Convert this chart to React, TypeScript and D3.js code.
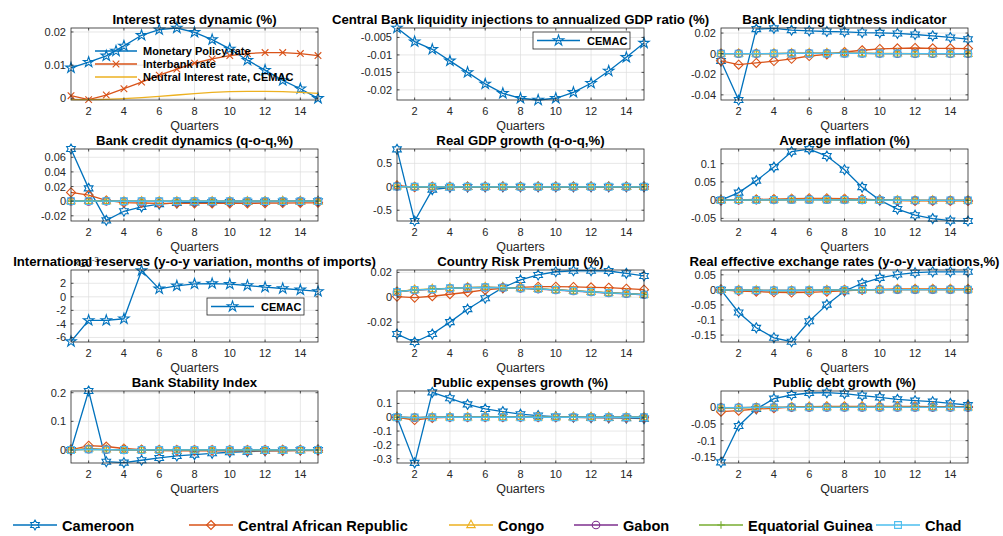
import React from 'react';
import * as d3 from 'd3';

// ---------------- DATA ----------------
const quarters = d3.range(1, 16);
const countries = ['Cameroon', 'Central African Republic', 'Congo', 'Gabon', 'Equatorial Guinea', 'Chad'];
const countryColors = ['#0072BD', '#D95319', '#EDB120', '#7E2F8E', '#77AC30', '#4DBEEE'];
const countryMarkers = ['hexagram', 'diamond', 'triangle', 'circle', 'plus', 'square'];

// Panel 1: interest rates
const ratePolicy = [0.0092, 0.0109, 0.0128, 0.0158, 0.019, 0.0207, 0.0212, 0.0199, 0.0177, 0.0149, 0.0115, 0.0085, 0.0054, 0.0029, 0.0];
const rateInterbank = [0.0008, -0.0004, 0.001, 0.0029, 0.0049, 0.007, 0.0088, 0.0106, 0.0119, 0.0129, 0.0135, 0.0138, 0.0138, 0.0135, 0.0129];
const rateNeutral = [-0.0004, -0.0004, -0.0003, -0.0001, 0.0002, 0.0006, 0.001, 0.0014, 0.0018, 0.002, 0.0021, 0.0021, 0.002, 0.0018, 0.0015];
const rateLegend = ['Monetary Policy rate', 'Interbank rate', 'Neutral Interest rate, CEMAC'];

// Panel 2: liquidity injections (CEMAC)
const liquidityCEMAC = [-0.0023, -0.0062, -0.0084, -0.0117, -0.015, -0.0183, -0.021, -0.0224, -0.0229, -0.0224, -0.0207, -0.0181, -0.0146, -0.0107, -0.0066];

// Panel 3: bank lending tightness
const lendCMR = [-0.0072, -0.045, 0.0238, 0.0245, 0.0228, 0.0222, 0.0215, 0.0212, 0.0205, 0.0202, 0.0196, 0.0186, 0.0173, 0.0157, 0.014];
const lendCAF = [-0.007, -0.0107, -0.009, -0.0072, -0.005, -0.0023, -0.0007, 0.0016, 0.0033, 0.0046, 0.0052, 0.0055, 0.0052, 0.0052, 0.0049];
const lendCOG = [0.0, 0.0, 0.0, 0.0002, 0.0003, 0.0004, 0.0005, 0.0005, 0.0004, 0.0003, 0.0002, 0.0001, 0.0, 0.0, -0.0001];
const lendGAB = [0.0, 0.0, 0.0, 0.0001, 0.0002, 0.0003, 0.0003, 0.0003, 0.0002, 0.0001, 0.0, 0.0, -0.0001, -0.0001, -0.0001];
const lendGNQ = [0.0, 0.0, 0.0, 0.0001, 0.0002, 0.0002, 0.0003, 0.0003, 0.0002, 0.0001, 0.0001, 0.0, 0.0, 0.0, 0.0];
const lendTCD = [0.0, 0.0, 0.0, 0.0001, 0.0002, 0.0002, 0.0002, 0.0002, 0.0002, 0.0001, 0.0001, 0.0, 0.0, 0.0, 0.0];

// Panel 4: bank credit dynamics
const credCMR = [0.0713, 0.0175, -0.0262, -0.0138, -0.0078, -0.004, -0.0023, -0.0018, -0.0015, -0.0012, -0.001, -0.0008, -0.0006, -0.0004, -0.0002];
const credCAF = [0.012, 0.0083, 0.001, -0.002, -0.0025, -0.003, -0.003, -0.003, -0.003, -0.003, -0.003, -0.0028, -0.0026, -0.0024, -0.0022];
const credCOG = [0.0, 0.0005, 0.0, -0.0002, -0.0003, -0.0003, -0.0003, -0.0003, -0.0003, -0.0002, -0.0002, -0.0002, -0.0001, -0.0001, -0.0001];
const credGAB = [0.0, -0.0003, 0.0, -0.0001, -0.0002, -0.0002, -0.0002, -0.0002, -0.0002, -0.0001, -0.0001, -0.0001, -0.0001, 0.0, 0.0];
const credGNQ = [0.0, 0.0002, 0.0, -0.0001, -0.0001, -0.0001, -0.0001, -0.0001, -0.0001, -0.0001, 0.0, 0.0, 0.0, 0.0, 0.0];
const credTCD = [0.0, 0.0001, 0.0, -0.0001, -0.0001, -0.0001, -0.0001, -0.0001, -0.0001, 0.0, 0.0, 0.0, 0.0, 0.0, 0.0];

// Panel 5: real GDP growth
const gdpCMR = [0.8, -0.73, -0.06, -0.015, -0.005, -0.002, 0.0, 0.0, 0.0, 0.0, 0.0, 0.0, 0.0, 0.0, 0.0];
const gdpCAF = [0.03, -0.01, 0.0, 0.0, 0.0, 0.0, 0.0, 0.0, 0.0, 0.0, 0.0, 0.0, 0.0, 0.0, 0.0];
const gdpCOG = [0.01, 0.0, 0.0, 0.0, 0.0, 0.0, 0.0, 0.0, 0.0, 0.0, 0.0, 0.0, 0.0, 0.0, 0.0];
const gdpGAB = [0.01, 0.0, 0.0, 0.0, 0.0, 0.0, 0.0, 0.0, 0.0, 0.0, 0.0, 0.0, 0.0, 0.0, 0.0];
const gdpGNQ = [0.005, 0.0, 0.0, 0.0, 0.0, 0.0, 0.0, 0.0, 0.0, 0.0, 0.0, 0.0, 0.0, 0.0, 0.0];
const gdpTCD = [0.005, 0.0, 0.0, 0.0, 0.0, 0.0, 0.0, 0.0, 0.0, 0.0, 0.0, 0.0, 0.0, 0.0, 0.0];

// Panel 6: average inflation
const inflCMR = [0.0, 0.0206, 0.0535, 0.0906, 0.133, 0.14, 0.121, 0.0835, 0.0356, 0.0, -0.0244, -0.0413, -0.0507, -0.0563, -0.0572];
const inflCAF = [0.0, 0.001, 0.002, 0.003, 0.004, 0.005, 0.005, 0.004, 0.003, 0.001, -0.001, -0.002, -0.002, -0.002, -0.002];
const inflCOG = [0.0, 0.0005, 0.001, 0.0015, 0.002, 0.002, 0.002, 0.0015, 0.001, 0.0, -0.0005, -0.001, -0.001, -0.001, -0.001];
const inflGAB = [0.0, 0.0003, 0.0008, 0.001, 0.0013, 0.0015, 0.0013, 0.001, 0.0005, 0.0, -0.0005, -0.0007, -0.0008, -0.0008, -0.0008];
const inflGNQ = [0.0, 0.0003, 0.0006, 0.0009, 0.0011, 0.0012, 0.0011, 0.0008, 0.0004, 0.0, -0.0003, -0.0005, -0.0006, -0.0006, -0.0006];
const inflTCD = [0.0, 0.0003, 0.0006, 0.0008, 0.001, 0.0011, 0.001, 0.0007, 0.0003, 0.0, -0.0003, -0.0005, -0.0005, -0.0005, -0.0005];

// Panel 7: international reserves (x 10^-3)
const reservesCEMAC = [-6.6, -3.48, -3.48, -3.24, 3.88, 1.18, 1.62, 1.9, 1.96, 1.87, 1.67, 1.42, 1.23, 1.03, 0.79];

// Panel 8: country risk premium
const riskCMR = [-0.0296, -0.036, -0.0296, -0.02, -0.0096, -0.0008, 0.0077, 0.0139, 0.0179, 0.0205, 0.0213, 0.0213, 0.0211, 0.0192, 0.0171];
const riskCAF = [0.0005, -0.0003, 0.0008, 0.0024, 0.004, 0.0059, 0.0072, 0.008, 0.0085, 0.0085, 0.0083, 0.008, 0.0077, 0.0069, 0.0061];
const riskCOG = [0.0045, 0.006, 0.0066, 0.0074, 0.0079, 0.0081, 0.0078, 0.0073, 0.0068, 0.006, 0.0052, 0.0044, 0.0036, 0.003, 0.0022];
const riskGAB = [0.0043, 0.0058, 0.0064, 0.0072, 0.0077, 0.008, 0.0077, 0.0072, 0.0066, 0.0058, 0.005, 0.0042, 0.0034, 0.0028, 0.002];
const riskGNQ = [0.0044, 0.0059, 0.0065, 0.0072, 0.0078, 0.008, 0.0077, 0.0072, 0.0067, 0.0059, 0.0051, 0.0043, 0.0035, 0.0029, 0.0021];
const riskTCD = [0.0043, 0.0059, 0.0064, 0.0072, 0.0077, 0.008, 0.0077, 0.0072, 0.0067, 0.0059, 0.0051, 0.0043, 0.0035, 0.0029, 0.0021];

// Panel 9: real effective exchange rates
const reerCMR = [0.0, -0.075, -0.126, -0.159, -0.172, -0.104, -0.049, -0.004, 0.022, 0.04, 0.051, 0.057, 0.06, 0.06, 0.06];
const reerCAF = [0.0, -0.004, -0.006, -0.008, -0.009, -0.008, -0.006, -0.003, 0.0, 0.002, 0.003, 0.003, 0.003, 0.003, 0.003];
const reerCOG = [0.0, -0.001, -0.002, -0.003, -0.003, -0.002, -0.001, 0.0, 0.001, 0.001, 0.002, 0.002, 0.002, 0.002, 0.002];
const reerGAB = [0.0, -0.001, -0.002, -0.002, -0.002, -0.002, -0.001, 0.0, 0.001, 0.001, 0.001, 0.001, 0.001, 0.001, 0.001];
const reerGNQ = [0.0, -0.001, -0.001, -0.002, -0.002, -0.001, -0.001, 0.0, 0.0, 0.001, 0.001, 0.001, 0.001, 0.001, 0.001];
const reerTCD = [0.0, -0.001, -0.001, -0.002, -0.002, -0.001, -0.001, 0.0, 0.0, 0.001, 0.001, 0.001, 0.001, 0.001, 0.001];

// Panel 10: bank stability index
const stabCMR = [0.0, 0.206, -0.041, -0.0444, -0.036, -0.028, -0.021, -0.0164, -0.0117, -0.008, -0.006, -0.0035, -0.002, -0.001, 0.0];
const stabCAF = [0.0, 0.015, 0.012, 0.005, 0.001, -0.002, -0.003, -0.003, -0.003, -0.003, -0.003, -0.003, -0.003, -0.002, -0.002];
const stabCOG = [0.0, 0.005, 0.002, 0.001, 0.0, 0.0, -0.001, -0.001, -0.001, -0.001, -0.001, -0.001, 0.0, 0.0, 0.0];
const stabGAB = [0.0, 0.003, 0.001, 0.0, 0.0, 0.0, 0.0, 0.0, 0.0, 0.0, 0.0, 0.0, 0.0, 0.0, 0.0];
const stabGNQ = [0.0, 0.002, 0.001, 0.0, 0.0, 0.0, 0.0, 0.0, 0.0, 0.0, 0.0, 0.0, 0.0, 0.0, 0.0];
const stabTCD = [0.0, 0.002, 0.001, 0.0, 0.0, 0.0, 0.0, 0.0, 0.0, 0.0, 0.0, 0.0, 0.0, 0.0, 0.0];

// Panel 11: public expenses growth
const expCMR = [0.0, -0.33, 0.18, 0.137, 0.093, 0.06, 0.041, 0.022, 0.012, 0.005, 0.0, -0.003, -0.005, -0.007, -0.01];
const expCAF = [0.0, -0.02, -0.005, 0.0, 0.0, 0.0, 0.0, 0.0, 0.0, 0.0, 0.0, -0.002, -0.003, -0.003, -0.003];
const expCOG = [0.0, -0.005, 0.0, 0.0, 0.0, 0.0, 0.0, 0.0, 0.0, 0.0, 0.0, 0.0, 0.0, 0.0, 0.0];
const expGAB = [0.0, -0.003, 0.0, 0.0, 0.0, 0.0, 0.0, 0.0, 0.0, 0.0, 0.0, 0.0, 0.0, 0.0, 0.0];
const expGNQ = [0.0, -0.002, 0.0, 0.0, 0.0, 0.0, 0.0, 0.0, 0.0, 0.0, 0.0, 0.0, 0.0, 0.0, 0.0];
const expTCD = [0.0, -0.002, 0.0, 0.0, 0.0, 0.0, 0.0, 0.0, 0.0, 0.0, 0.0, 0.0, 0.0, 0.0, 0.0];

// Panel 12: public debt growth
const debtCMR = [-0.165, -0.056, -0.005, 0.026, 0.037, 0.043, 0.044, 0.041, 0.035, 0.03, 0.024, 0.02, 0.017, 0.012, 0.007];
const debtCAF = [-0.013, -0.01, -0.005, -0.003, 0.001, 0.002, 0.003, 0.003, 0.003, 0.003, 0.003, 0.003, 0.002, 0.002, 0.002];
const debtCOG = [-0.002, -0.002, -0.001, 0.0, 0.0, 0.001, 0.001, 0.001, 0.001, 0.001, 0.001, 0.0, 0.0, 0.0, 0.0];
const debtGAB = [-0.001, -0.001, 0.0, 0.0, 0.0, 0.0, 0.0, 0.0, 0.0, 0.0, 0.0, 0.0, 0.0, 0.0, 0.0];
const debtGNQ = [-0.001, -0.001, 0.0, 0.0, 0.0, 0.0, 0.0, 0.0, 0.0, 0.0, 0.0, 0.0, 0.0, 0.0, 0.0];
const debtTCD = [-0.001, -0.001, 0.0, 0.0, 0.0, 0.0, 0.0, 0.0, 0.0, 0.0, 0.0, 0.0, 0.0, 0.0, 0.0];

// Tick values
const xTicks = [2, 4, 6, 8, 10, 12, 14];
const ticksRates = [0, 0.01, 0.02];
const ticksLiquidity = [-0.02, -0.015, -0.01, -0.005];
const ticksLending = [-0.04, -0.02, 0, 0.02];
const ticksCredit = [-0.02, 0, 0.02, 0.04, 0.06];
const ticksGdp = [-0.5, 0, 0.5];
const ticksInfl = [-0.05, 0, 0.05, 0.1];
const ticksReserves = [-6, -4, -2, 0, 2];
const ticksRisk = [-0.02, 0, 0.02];
const ticksReer = [-0.15, -0.1, -0.05, 0, 0.05];
const ticksStab = [0, 0.1, 0.2];
const ticksExp = [-0.3, -0.2, -0.1, 0, 0.1];
const ticksDebt = [-0.15, -0.1, -0.05, 0];

// ---------------- LAYOUT / STYLE ----------------
const FONT = 'Liberation Sans, Arial, Helvetica, sans-serif';
const AX = '#262626';
const colX = [71, 397, 721];
const rowY = [28, 149, 270, 391];
const PW = 247;
const PH = 72;

type Series = { values: number[]; color: string; marker: string | null };
type Panel = {
  title: string; col: number; row: number; ylim: [number, number]; yTicks: number[];
  series: Series[]; legend?: 'rates' | 'cemac'; exponent?: boolean;
};

const countrySeries = (arrs: number[][]): Series[] =>
  arrs.map((values, i) => ({ values, color: countryColors[i], marker: countryMarkers[i] }));

const panels: Panel[] = [
  { title: 'Interest rates dynamic (%)', col: 0, row: 0, ylim: [-0.0005, 0.0212], yTicks: ticksRates, legend: 'rates',
    series: [
      { values: ratePolicy, color: countryColors[0], marker: 'pentagram' },
      { values: rateInterbank, color: countryColors[1], marker: 'x' },
      { values: rateNeutral, color: countryColors[2], marker: null },
    ] },
  { title: 'Central Bank liquidity injections to annualized GDP ratio (%)', col: 1, row: 0, ylim: [-0.0229, -0.0023], yTicks: ticksLiquidity, legend: 'cemac',
    series: [{ values: liquidityCEMAC, color: countryColors[0], marker: 'pentagram' }] },
  { title: 'Bank lending tightness indicator', col: 2, row: 0, ylim: [-0.045, 0.0249], yTicks: ticksLending,
    series: countrySeries([lendCMR, lendCAF, lendCOG, lendGAB, lendGNQ, lendTCD]) },
  { title: 'Bank credit dynamics (q-o-q,%)', col: 0, row: 1, ylim: [-0.0271, 0.0713], yTicks: ticksCredit,
    series: countrySeries([credCMR, credCAF, credCOG, credGAB, credGNQ, credTCD]) },
  { title: 'Real GDP growth (q-o-q,%)', col: 1, row: 1, ylim: [-0.73, 0.807], yTicks: ticksGdp,
    series: countrySeries([gdpCMR, gdpCAF, gdpCOG, gdpGAB, gdpGNQ, gdpTCD]) },
  { title: 'Average inflation (%)', col: 2, row: 1, ylim: [-0.0572, 0.1403], yTicks: ticksInfl,
    series: countrySeries([inflCMR, inflCAF, inflCOG, inflGAB, inflGNQ, inflTCD]) },
  { title: 'International reserves (y-o-y variation, months of imports)', col: 0, row: 2, ylim: [-6.67, 3.96], yTicks: ticksReserves, legend: 'cemac', exponent: true,
    series: [{ values: reservesCEMAC, color: countryColors[0], marker: 'pentagram' }] },
  { title: 'Country Risk Premium (%)', col: 1, row: 2, ylim: [-0.036, 0.0219], yTicks: ticksRisk,
    series: countrySeries([riskCMR, riskCAF, riskCOG, riskGAB, riskGNQ, riskTCD]) },
  { title: 'Real effective exchange rates (y-o-y variations,%)', col: 2, row: 2, ylim: [-0.173, 0.066], yTicks: ticksReer,
    series: countrySeries([reerCMR, reerCAF, reerCOG, reerGAB, reerGNQ, reerTCD]) },
  { title: 'Bank Stability Index', col: 0, row: 3, ylim: [-0.0456, 0.206], yTicks: ticksStab,
    series: countrySeries([stabCMR, stabCAF, stabCOG, stabGAB, stabGNQ, stabTCD]) },
  { title: 'Public expenses growth (%)', col: 1, row: 3, ylim: [-0.331, 0.19], yTicks: ticksExp,
    series: countrySeries([expCMR, expCAF, expCOG, expGAB, expGNQ, expTCD]) },
  { title: 'Public debt growth (%)', col: 2, row: 3, ylim: [-0.167, 0.049], yTicks: ticksDebt,
    series: countrySeries([debtCMR, debtCAF, debtCOG, debtGAB, debtGNQ, debtTCD]) },
];

function starPath(points: number, R: number, r: number): string {
  const pts: [number, number][] = [];
  for (let i = 0; i < points * 2; i++) {
    const a = -Math.PI / 2 + (i * Math.PI) / points;
    const rad = i % 2 === 0 ? R : r;
    pts.push([rad * Math.cos(a), rad * Math.sin(a)]);
  }
  return 'M' + pts.map((p) => p[0].toFixed(2) + ',' + p[1].toFixed(2)).join('L') + 'Z';
}

function markerPath(type: string): string {
  switch (type) {
    case 'pentagram': return starPath(5, 5.5, 5.5 * 0.382);
    case 'hexagram': return starPath(6, 5, 5 / Math.sqrt(3));
    case 'diamond': return 'M0,-4.5L4.5,0L0,4.5L-4.5,0Z';
    case 'triangle': return 'M0,-4.8L4.2,2.6L-4.2,2.6Z';
    case 'circle': return d3.arc()({ innerRadius: 0, outerRadius: 3.8, startAngle: 0, endAngle: 2 * Math.PI }) as string;
    case 'plus': return 'M-3.8,0H3.8M0,-3.8V3.8';
    case 'square': return 'M-3.4,-3.4H3.4V3.4H-3.4Z';
    case 'x': return 'M-3.3,-3.3L3.3,3.3M-3.3,3.3L3.3,-3.3';
    default: return '';
  }
}

const fmt = (v: number) => String(Math.round(v * 1e6) / 1e6);

function Marker({ type, color, x, y }: { type: string; color: string; x: number; y: number }) {
  return <path d={markerPath(type)} transform={`translate(${x},${y})`} fill="none" stroke={color} strokeWidth={1.1} />;
}

function PanelView({ p }: { p: Panel }) {
  const x0 = colX[p.col];
  const y0 = rowY[p.row];
  const xs = d3.scaleLinear().domain([1, 15]).range([x0, x0 + PW]);
  const ys = d3.scaleLinear().domain(p.ylim).range([y0 + PH, y0]);
  const line = d3.line<number>().x((_, i) => xs(quarters[i])).y((d) => ys(d));
  const cx = x0 + PW / 2;
  return (
    <g>
      <rect x={x0} y={y0} width={PW} height={PH} fill="#fff" />
      {xTicks.map((t) => (
        <line key={'gx' + t} x1={xs(t)} x2={xs(t)} y1={y0} y2={y0 + PH} stroke="#dcdcdc" strokeWidth={0.7} />
      ))}
      {p.yTicks.map((t) => (
        <line key={'gy' + t} x1={x0} x2={x0 + PW} y1={ys(t)} y2={ys(t)} stroke="#dcdcdc" strokeWidth={0.7} />
      ))}
      {p.series.map((s, si) => (
        <g key={si}>
          <path d={line(s.values) as string} fill="none" stroke={s.color} strokeWidth={1.3} />
          {s.marker && s.values.map((v, i) => <Marker key={i} type={s.marker as string} color={s.color} x={xs(quarters[i])} y={ys(v)} />)}
        </g>
      ))}
      <rect x={x0} y={y0} width={PW} height={PH} fill="none" stroke={AX} strokeWidth={0.8} />
      {xTicks.map((t) => (
        <g key={'tx' + t}>
          <line x1={xs(t)} x2={xs(t)} y1={y0 + PH} y2={y0 + PH - 2.5} stroke={AX} strokeWidth={0.8} />
          <line x1={xs(t)} x2={xs(t)} y1={y0} y2={y0 + 2.5} stroke={AX} strokeWidth={0.8} />
          <text x={xs(t)} y={y0 + PH + 14.5} textAnchor="middle" fontSize={11} fill={AX} fontFamily={FONT}>{t}</text>
        </g>
      ))}
      {p.yTicks.map((t) => (
        <g key={'ty' + t}>
          <line x1={x0} x2={x0 + 2.5} y1={ys(t)} y2={ys(t)} stroke={AX} strokeWidth={0.8} />
          <line x1={x0 + PW} x2={x0 + PW - 2.5} y1={ys(t)} y2={ys(t)} stroke={AX} strokeWidth={0.8} />
          <text x={x0 - 5} y={ys(t) + 4} textAnchor="end" fontSize={11} fill={AX} fontFamily={FONT}>{fmt(t)}</text>
        </g>
      ))}
      <text x={cx} y={y0 + PH + 30} textAnchor="middle" fontSize={12.5} fill={AX} fontFamily={FONT}>Quarters</text>
      {p.exponent && (
        <text x={x0 + 2} y={y0 - 3} fontSize={11} fill={AX} fontFamily={FONT}>
          ×10<tspan dy={-5} fontSize={8}>-3</tspan>
        </text>
      )}
      <text x={cx} y={y0 - 4} textAnchor="middle" fontSize={13.2} fontWeight="bold" fill="#000" fontFamily={FONT}>{p.title}</text>
      {p.legend === 'rates' && rateLegend.map((lab, i) => {
        const ly = y0 + 23 + i * 13;
        const s = p.series[i];
        return (
          <g key={lab}>
            <line x1={95} x2={137} y1={ly} y2={ly} stroke={s.color} strokeWidth={1.3} />
            {s.marker && <Marker type={s.marker} color={s.color} x={116} y={ly} />}
            <text x={143} y={ly + 4} fontSize={11} fontWeight="bold" fill="#000" fontFamily={FONT}>{lab}</text>
          </g>
        );
      })}
      {p.legend === 'cemac' && (() => {
        const bx = x0 + 136;
        const by = p.col === 1 ? y0 + 4 : y0 + 28;
        return (
          <g>
            <rect x={bx} y={by} width={97} height={17} fill="#fff" stroke={AX} strokeWidth={0.8} />
            <line x1={bx + 4} x2={bx + 47} y1={by + 8.5} y2={by + 8.5} stroke={countryColors[0]} strokeWidth={1.3} />
            <Marker type="pentagram" color={countryColors[0]} x={bx + 25.5} y={by + 8.5} />
            <text x={bx + 54} y={by + 12.5} fontSize={11} fontWeight="bold" fill="#000" fontFamily={FONT}>CEMAC</text>
          </g>
        );
      })()}
    </g>
  );
}

const legendX = [13, 189, 449, 574, 699, 876];
const LEG_LINE = 44;

export default function App() {
  return (
    <svg width={1003} height={536} style={{ position: 'absolute', left: 0, top: 0, background: '#fff' }}>
      <rect x={0} y={0} width={1003} height={536} fill="#fff" />
      {panels.map((p, i) => <PanelView key={i} p={p} />)}
      {countries.map((c, i) => {
        const lx = legendX[i];
        const ly = 525;
        return (
          <g key={c}>
            <line x1={lx} x2={lx + LEG_LINE} y1={ly} y2={ly} stroke={countryColors[i]} strokeWidth={1.3} />
            <Marker type={countryMarkers[i]} color={countryColors[i]} x={lx + LEG_LINE / 2} y={ly} />
            <text x={lx + LEG_LINE + 5} y={ly + 5.5} fontSize={14.6} fontWeight="bold" fill="#000" fontFamily={FONT}>{c}</text>
          </g>
        );
      })}
    </svg>
  );
}
